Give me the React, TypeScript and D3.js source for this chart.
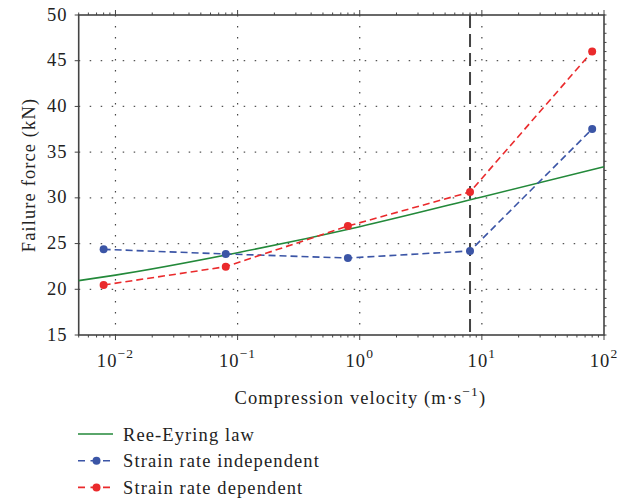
import React, { useEffect, useRef } from "react";
import * as d3 from "d3";

// velocities (m/s) where the tests were run
const velocities = [0.008, 0.08, 0.8, 8, 80];
const independent = [24.37, 23.86, 23.42, 24.19, 37.53];
const dependent = [20.47, 22.47, 26.92, 30.64, 46.0];

// Ree-Eyring fit
const reeVel = [0.005, 0.01, 0.1, 1, 10, 100];
const reeForce = [20.95, 21.55, 24.0, 26.85, 30.1, 33.4];

const yTicks = [15, 20, 25, 30, 35, 40, 45, 50];
const xDecades = [-2, -1, 0, 1, 2];
const limitVelocity = 8;

const legendLabels = ["Ree-Eyring law", "Strain rate independent", "Strain rate dependent"];

const FONT = "'Liberation Serif', 'Times New Roman', serif";
const FS = 18.5;
const LS = 1.1;
const AXIS = "#444";
const GREEN = "#23893a";
const BLUE = "#3b55a6";
const RED = "#ea2a2c";

const App: React.FC = () => {
  const svgRef = useRef<SVGSVGElement | null>(null);

  useEffect(() => {
    if (!svgRef.current) return;
    const svg = d3.select(svgRef.current);
    svg.selectAll("*").remove();

    const width = 633;
    const height = 503;
    const margin = { top: 15, right: 29, bottom: 168, left: 78.7 };
    const innerWidth = width - margin.left - margin.right;
    const innerHeight = height - margin.top - margin.bottom;

    svg.attr("width", width).attr("height", height);

    const g = svg
      .append("g")
      .attr("transform", `translate(${margin.left},${margin.top})`);

    const x = d3.scaleLog().domain([0.005, 100]).range([0, innerWidth]);
    const y = d3.scaleLinear().domain([15, 50]).range([innerHeight, 0]);

    // grid
    g.append("g")
      .selectAll("line")
      .data(yTicks.slice(1, -1))
      .enter()
      .append("line")
      .attr("x1", 0)
      .attr("x2", innerWidth)
      .attr("y1", (d) => y(d))
      .attr("y2", (d) => y(d))
      .attr("stroke", "#555")
      .attr("stroke-width", 1.2)
      .attr("stroke-dasharray", "1.5,9.5");

    g.append("g")
      .selectAll("line")
      .data(xDecades.slice(0, -1))
      .enter()
      .append("line")
      .attr("x1", (d) => x(Math.pow(10, d)))
      .attr("x2", (d) => x(Math.pow(10, d)))
      .attr("y1", 0)
      .attr("y2", innerHeight)
      .attr("stroke", "#444")
      .attr("stroke-width", 1.2)
      .attr("stroke-dasharray", "1.5,9.5");

    // ticks, major + minor (log)
    const minor: number[] = [];
    for (let e = -3; e <= 1; e++) {
      for (let k = 2; k <= 9; k++) {
        const v = k * Math.pow(10, e);
        if (v >= 0.005 && v <= 100) minor.push(v);
      }
    }
    const major = xDecades.map((d) => Math.pow(10, d));

    const tickG = g.append("g").attr("stroke", AXIS).attr("stroke-width", 1);
    [innerHeight, 0].forEach((yy) => {
      const dir = yy === 0 ? -1 : 1;
      tickG
        .selectAll(null)
        .data(minor)
        .enter()
        .append("line")
        .attr("x1", (d) => x(d))
        .attr("x2", (d) => x(d))
        .attr("y1", yy)
        .attr("y2", yy + dir * 2.5);
      tickG
        .selectAll(null)
        .data(major)
        .enter()
        .append("line")
        .attr("x1", (d) => x(d))
        .attr("x2", (d) => x(d))
        .attr("y1", yy)
        .attr("y2", yy + dir * 5);
    });
    tickG
      .selectAll(null)
      .data(yTicks)
      .enter()
      .append("line")
      .attr("x1", 0)
      .attr("x2", -4)
      .attr("y1", (d) => y(d))
      .attr("y2", (d) => y(d));
    tickG
      .selectAll(null)
      .data(d3.range(15, 51))
      .enter()
      .append("line")
      .attr("x1", innerWidth)
      .attr("x2", innerWidth + 2.5)
      .attr("y1", (d) => y(d))
      .attr("y2", (d) => y(d));

    // frame
    g.append("rect")
      .attr("width", innerWidth)
      .attr("height", innerHeight)
      .attr("fill", "none")
      .attr("stroke", AXIS)
      .attr("stroke-width", 1.6);

    // tick labels
    g.append("g")
      .selectAll("text")
      .data(yTicks)
      .enter()
      .append("text")
      .attr("x", -11)
      .attr("y", (d) => y(d) + 5.5)
      .attr("text-anchor", "end")
      .attr("font-family", FONT)
      .attr("font-size", FS)
      .attr("letter-spacing", LS)
      .attr("fill", "#222")
      .text((d) => d);

    const xl = g
      .append("g")
      .selectAll("text")
      .data(xDecades)
      .enter()
      .append("text")
      .attr("x", (d) => x(Math.pow(10, d)))
      .attr("y", innerHeight + 32)
      .attr("text-anchor", "middle")
      .attr("font-family", FONT)
      .attr("font-size", FS)
      .attr("letter-spacing", LS)
      .attr("fill", "#222");
    xl.append("tspan").text("10");
    xl.append("tspan")
      .attr("dy", -9)
      .attr("font-size", 13.5)
      .text((d) => (d < 0 ? `\u2212${-d}` : `${d}`));

    // axis titles
    const xt = g
      .append("text")
      .attr("x", innerWidth / 2 + 19)
      .attr("y", innerHeight + 69)
      .attr("text-anchor", "middle")
      .attr("font-family", FONT)
      .attr("font-size", FS)
      .attr("letter-spacing", LS)
      .attr("fill", "#222");
    xt.append("tspan").text("Compression velocity (m\u00b7s");
    xt.append("tspan").attr("dy", -8).attr("font-size", 13.5).text("\u22121");
    xt.append("tspan").attr("dy", 8).text(")");

    g.append("text")
      .attr("transform", "rotate(-90)")
      .attr("x", -innerHeight / 2)
      .attr("y", -margin.left + 35)
      .attr("text-anchor", "middle")
      .attr("font-family", FONT)
      .attr("font-size", FS)
      .attr("letter-spacing", LS)
      .attr("fill", "#222")
      .text("Failure force (kN)");

    // vertical limit line
    g.append("line")
      .attr("x1", x(limitVelocity))
      .attr("x2", x(limitVelocity))
      .attr("y1", 0)
      .attr("y2", innerHeight)
      .attr("stroke", "#444")
      .attr("stroke-width", 2)
      .attr("stroke-dasharray", "13,6");

    // Ree-Eyring curve
    const reeData = reeVel.map((v, i) => ({ v, f: reeForce[i] }));
    const curve = d3
      .line<{ v: number; f: number }>()
      .x((d) => x(d.v))
      .y((d) => y(d.f))
      .curve(d3.curveMonotoneX);
    g.append("path")
      .datum(reeData)
      .attr("fill", "none")
      .attr("stroke", GREEN)
      .attr("stroke-width", 1.6)
      .attr("d", curve);

    const series = [
      { values: independent, color: BLUE },
      { values: dependent, color: RED },
    ];
    series.forEach((s) => {
      const pts = velocities.map((v, i) => ({ v, f: s.values[i] }));
      const line = d3
        .line<{ v: number; f: number }>()
        .x((d) => x(d.v))
        .y((d) => y(d.f));
      g.append("path")
        .datum(pts)
        .attr("fill", "none")
        .attr("stroke", s.color)
        .attr("stroke-width", 1.6)
        .attr("stroke-dasharray", "7,4")
        .attr("d", line);
      g.selectAll(null)
        .data(pts)
        .enter()
        .append("circle")
        .attr("cx", (d) => x(d.v))
        .attr("cy", (d) => y(d.f))
        .attr("r", 4)
        .attr("fill", s.color);
    });

    // legend
    const legend = svg.append("g").attr("transform", "translate(78,434)");
    const legendColors = [GREEN, BLUE, RED];
    legendLabels.forEach((label, i) => {
      const row = legend.append("g").attr("transform", `translate(0,${i * 26.7})`);
      row
        .append("line")
        .attr("x1", 0)
        .attr("x2", 35)
        .attr("y1", 0)
        .attr("y2", 0)
        .attr("stroke", legendColors[i])
        .attr("stroke-width", 1.6)
        .attr("stroke-dasharray", i === 0 ? null : "7,5.5");
      if (i > 0) {
        row.append("circle").attr("cx", 18.5).attr("cy", 0).attr("r", 4).attr("fill", legendColors[i]);
      }
      row
        .append("text")
        .attr("x", 45)
        .attr("y", 6.5)
        .attr("font-family", FONT)
        .attr("font-size", FS)
        .attr("letter-spacing", LS)
        .attr("fill", "#222")
        .text(label);
    });
  }, []);

  return (
    <svg
      ref={svgRef}
      style={{ position: "absolute", left: 0, top: 0, background: "#fff" }}
    ></svg>
  );
};

export default App;
